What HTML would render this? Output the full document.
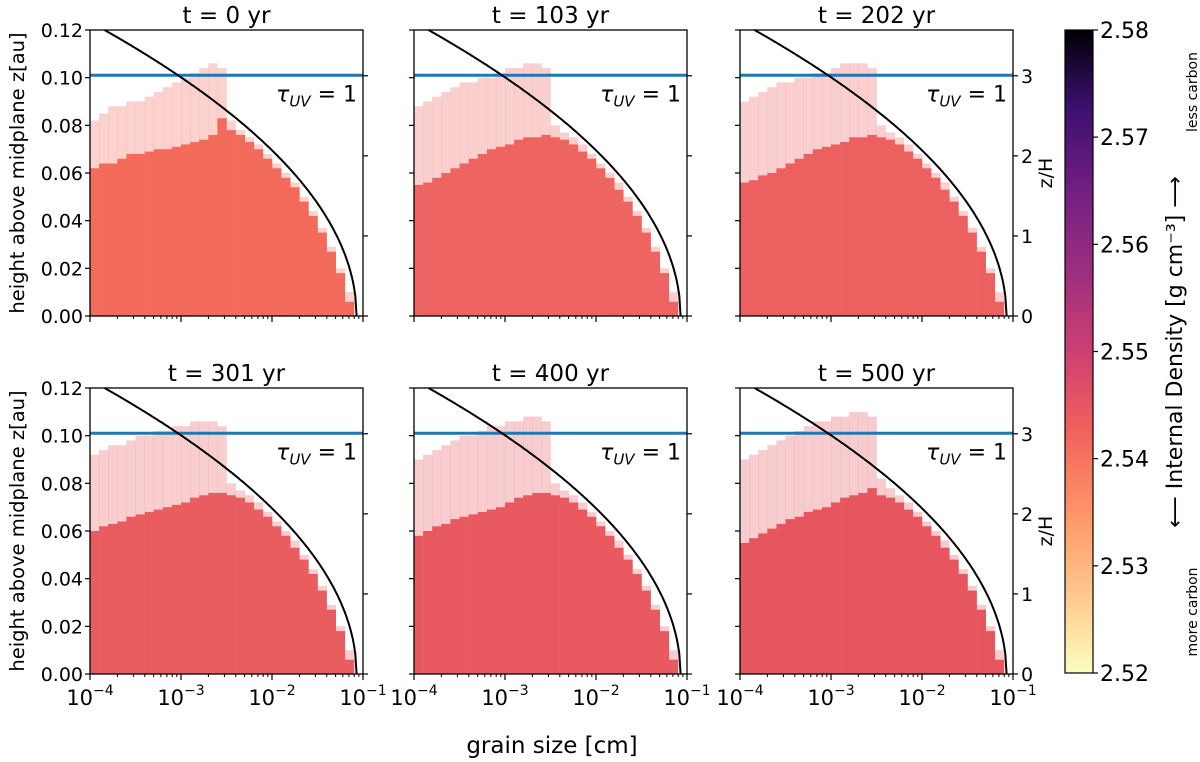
<!DOCTYPE html>
<html><head><meta charset="utf-8">
<style>
html,body{margin:0;padding:0;background:#fff;}
svg{display:block;font-family:"DejaVu Sans","Liberation Sans",sans-serif;}
</style></head>
<body>
<svg id="fig" width="1200" height="762" viewBox="0 0 1200 762" xmlns="http://www.w3.org/2000/svg">
<defs>
<linearGradient id="magma" x1="0" y1="1" x2="0" y2="0">
<stop offset="0" stop-color="#fcfdbf"/><stop offset="0.12" stop-color="#fec98d"/>
<stop offset="0.25" stop-color="#fd9567"/><stop offset="0.38" stop-color="#f1605d"/>
<stop offset="0.5" stop-color="#cd4071"/><stop offset="0.62" stop-color="#9e2f7f"/>
<stop offset="0.75" stop-color="#721f81"/><stop offset="0.88" stop-color="#3b0f70"/>
<stop offset="1" stop-color="#000004"/></linearGradient>
</defs>
<g id="panels"></g>
<text x="552" y="753" font-size="23" text-anchor="middle">grain size [cm]</text>
<text transform="translate(24,173) rotate(-90)" font-size="19.5" text-anchor="middle">height above midplane z[au]</text>
<text transform="translate(24,531) rotate(-90)" font-size="19.5" text-anchor="middle">height above midplane z[au]</text>
<text transform="translate(1052,173) rotate(-90)" font-size="19" text-anchor="middle">z/H</text>
<text transform="translate(1052,531) rotate(-90)" font-size="19" text-anchor="middle">z/H</text>
<g>
<rect x="1065" y="30" width="28" height="643" fill="url(#magma)" stroke="#000" stroke-width="1.2"/>
<g id="cbticks"></g>
<text transform="translate(1182,352) rotate(-90)" font-size="22" text-anchor="middle">⟵ Internal Density [g cm⁻³] ⟶</text>
<text transform="translate(1197,612) rotate(-90)" font-size="14" text-anchor="middle">more carbon</text>
<text transform="translate(1197,92) rotate(-90)" font-size="14" text-anchor="middle">less carbon</text>
</g>
</svg>
<script>
const NS="http://www.w3.org/2000/svg";
const titles=["t = 0 yr","t = 103 yr","t = 202 yr","t = 301 yr","t = 400 yr","t = 500 yr"];
const fillColors=["#f26b5b","#ee6460","#ec6060","#e95c60","#e85960","#e6565f"];
// dense fill top (au) per 0.1-dex column from 1e-4 to 1e-1
const dense0=[0.062,0.064,0.064,0.066,0.068,0.068,0.069,0.070,0.070,0.071,0.072,0.073,0.074,0.076,0.083,0.078,0.076,0.073,0.070,0.066,0.062,0.058,0.054,0.048,0.042,0.035,0.027,0.018,0.006,0];
const dense1=[0.055,0.056,0.058,0.060,0.062,0.064,0.066,0.068,0.070,0.071,0.072,0.074,0.075,0.075,0.076,0.075,0.074,0.072,0.069,0.066,0.062,0.058,0.053,0.048,0.042,0.035,0.027,0.018,0.006,0];
const dense2=[0.056,0.057,0.059,0.060,0.062,0.064,0.066,0.068,0.070,0.071,0.072,0.073,0.075,0.075,0.076,0.075,0.074,0.072,0.069,0.066,0.062,0.058,0.053,0.048,0.042,0.035,0.027,0.018,0.006,0];
const dense3=[0.060,0.062,0.063,0.064,0.066,0.067,0.068,0.069,0.070,0.071,0.072,0.074,0.075,0.076,0.076,0.075,0.074,0.072,0.069,0.066,0.062,0.058,0.053,0.048,0.042,0.035,0.027,0.018,0.006,0];
const dense4=[0.058,0.060,0.062,0.063,0.065,0.066,0.067,0.068,0.069,0.070,0.072,0.074,0.075,0.076,0.076,0.075,0.074,0.072,0.069,0.066,0.062,0.058,0.053,0.048,0.042,0.035,0.027,0.018,0.006,0];
const dense5=[0.055,0.057,0.059,0.061,0.063,0.065,0.066,0.068,0.069,0.070,0.072,0.074,0.075,0.076,0.078,0.075,0.074,0.072,0.069,0.066,0.062,0.058,0.053,0.048,0.042,0.035,0.027,0.018,0.006,0];
// sparse fringe top (au)
const fringe0=[0.082,0.085,0.088,0.088,0.090,0.090,0.092,0.094,0.096,0.098,0.100,0.102,0.104,0.106,0.104,0.082,0.078,0.075,0.072,0.068,0.064,0.060,0.056,0.050,0.044,0.037,0.029,0.020,0.010,0];
const fringe1=[0.088,0.090,0.092,0.094,0.096,0.098,0.098,0.100,0.100,0.102,0.104,0.104,0.106,0.106,0.104,0.080,0.077,0.075,0.072,0.068,0.064,0.060,0.056,0.050,0.044,0.037,0.029,0.020,0.010,0];
const fringe2=[0.090,0.092,0.094,0.096,0.098,0.098,0.100,0.100,0.102,0.102,0.104,0.106,0.106,0.106,0.104,0.080,0.077,0.075,0.072,0.068,0.064,0.060,0.056,0.050,0.044,0.037,0.029,0.020,0.010,0];
const fringe3=[0.092,0.094,0.096,0.096,0.098,0.100,0.100,0.102,0.102,0.104,0.104,0.106,0.106,0.106,0.104,0.080,0.077,0.075,0.072,0.068,0.064,0.060,0.056,0.050,0.044,0.037,0.029,0.020,0.010,0];
const fringe4=[0.090,0.092,0.094,0.096,0.098,0.100,0.100,0.102,0.104,0.104,0.106,0.106,0.108,0.108,0.106,0.080,0.077,0.075,0.072,0.068,0.064,0.060,0.056,0.050,0.044,0.037,0.029,0.020,0.010,0];
const fringe5=[0.090,0.092,0.094,0.096,0.098,0.100,0.102,0.104,0.106,0.106,0.108,0.108,0.110,0.110,0.108,0.082,0.078,0.075,0.072,0.068,0.064,0.060,0.056,0.050,0.044,0.037,0.029,0.020,0.010,0];
const denseAll=[dense0,dense1,dense2,dense3,dense4,dense5];
const fringeAll=[fringe0,fringe1,fringe2,fringe3,fringe4,fringe5];
const yTicks=[0,0.02,0.04,0.06,0.08,0.10,0.12];
const yTickLabels=["0.00","0.02","0.04","0.06","0.08","0.10","0.12"];
const zhTicks=[0,1,2,3];
const xDecades=[-4,-3,-2,-1];
const cbTicks=[2.52,2.53,2.54,2.55,2.56,2.57,2.58];
const tauLine=0.101, scaleH=0.0336, aMax=0.085;

const colX=[90,414,740], rowY=[30,388], W=273, Hp=286;
function el(tag,attrs,parent){const e=document.createElementNS(NS,tag);for(const k in attrs)e.setAttribute(k,attrs[k]);parent.appendChild(e);return e;}
const root=document.getElementById('panels');
for(let p=0;p<6;p++){
  const x0=colX[p%3], y0=rowY[Math.floor(p/3)];
  const sx=la=>x0+(la+4)/3*W;
  const sy=z=>y0+Hp-z/0.12*Hp;
  const g=el('g',{},root);
  
  
  const d=denseAll[p], f=fringeAll[p];
  for(let i=0;i<d.length;i++){
    const la=-4+i*0.1, xa=sx(la), xb=sx(la+0.1);
    if(f[i]>d[i]){
      const r=el('rect',{x:xa,y:sy(f[i]),width:xb-xa+0.3,height:sy(d[i])-sy(f[i]),fill:fillColors[p],opacity:0.3},g);
      
      
    }
    if(d[i]>0){
      const r=el('rect',{x:xa,y:sy(d[i]),width:xb-xa+0.3,height:sy(0)-sy(d[i]),fill:fillColors[p]},g);
      
      
    }
  }
  const tl=el('line',{x1:x0,x2:x0+W,y1:sy(tauLine),y2:sy(tauLine),stroke:'#1f77b4','stroke-width':3},g);
  
  
  const tt=el('text',{x:x0+W-6,y:sy(tauLine)+26,'font-size':22,'text-anchor':'end','font-style':'italic'},g);
  tt.innerHTML='τ<tspan font-size="15" dy="5">UV</tspan><tspan dy="-5" font-style="normal"> = 1</tspan>';
  
  
  let pts=[];
  for(let k=0;k<=200;k++){
    const la=Math.log10(1.4e-4)+k/200*(Math.log10(aMax)-Math.log10(1.4e-4));
    const a=Math.pow(10,la);
    const z=scaleH*Math.sqrt(Math.max(0,2*Math.log(aMax/a)));
    if(z<=0.12)pts.push(sx(la).toFixed(1)+','+sy(z).toFixed(1));
  }
  const cl=el('polyline',{points:pts.join(' '),fill:'none',stroke:'#000','stroke-width':2},g);
  
  
  const fr=el('rect',{x:x0,y:y0,width:W,height:Hp,fill:'none',stroke:'#000','stroke-width':1.3},g);
  
  
  const ti=el('text',{x:x0+W/2,y:y0-7,'font-size':23,'text-anchor':'middle'},g);
  ti.textContent=titles[p];
  
  
  yTicks.forEach((v,i)=>{
    el('line',{x1:x0-5,x2:x0,y1:sy(v),y2:sy(v),stroke:'#000','stroke-width':1.2},g);
    if(p%3===0){
      const t=el('text',{x:x0-7,y:sy(v)+7,'font-size':19,'text-anchor':'end'},g);
      t.textContent=yTickLabels[i];
      
      
    }
  });
  zhTicks.forEach(v=>{
    el('line',{x1:x0+W,x2:x0+W+5,y1:sy(v*scaleH),y2:sy(v*scaleH),stroke:'#000','stroke-width':1.2},g);
    if(p%3===2){
      const t=el('text',{x:x0+W+8,y:sy(v*scaleH)+7,'font-size':19},g);
      t.textContent=v;
      
      
    }
  });
  xDecades.forEach(dc=>{
    el('line',{x1:sx(dc),x2:sx(dc),y1:y0+Hp,y2:y0+Hp+6,stroke:'#000','stroke-width':1.2},g);
    if(dc<-1) for(let m=2;m<10;m++){const lx=sx(dc+Math.log10(m));el('line',{x1:lx,x2:lx,y1:y0+Hp,y2:y0+Hp+3,stroke:'#000','stroke-width':1},g);}
    if(p>=3){
      const t=el('text',{x:sx(dc),y:y0+Hp+31,'font-size':21,'text-anchor':'middle'},g);
      t.innerHTML='10<tspan font-size="14" dy="-10">−'+(-dc)+'</tspan>';
      
      
    }
  });
}
const cbg=document.getElementById('cbticks');
cbTicks.forEach((v,i)=>{
  const y=673-(v-2.52)/0.06*643;
  el('line',{x1:1093,x2:1098,y1:y,y2:y,stroke:'#000','stroke-width':1.2},cbg);
  const t=el('text',{x:1100,y:y+8,'font-size':22},cbg);
  t.textContent=v.toFixed(2);
  
  
});
</script>
</body></html>
